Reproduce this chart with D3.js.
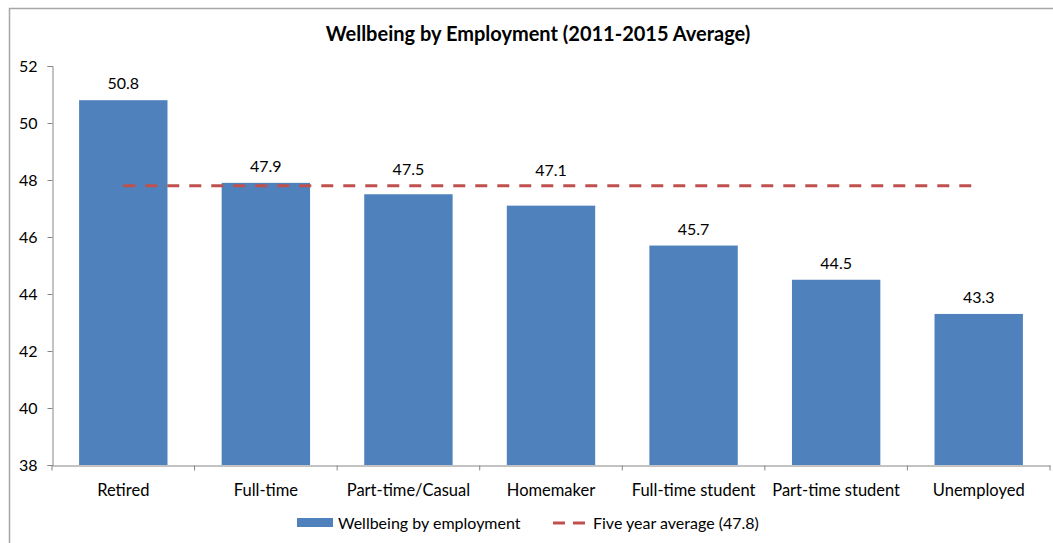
<!DOCTYPE html>
<html><head><meta charset="utf-8">
<script src="https://cdn.jsdelivr.net/npm/d3@7"></script>
<style>
body{margin:0;background:#fff;}
text{font-family:Lato,"Open Sans",sans-serif;fill:#000;}
</style></head>
<body>
<svg id="chart" width="1053" height="543"></svg>
<script>
const categories = ["Retired","Full-time","Part-time/Casual","Homemaker","Full-time student","Part-time student","Unemployed"];
const values = [50.8,47.9,47.5,47.1,45.7,44.5,43.3];
const averageValue = 47.8;
const averageSeries = categories.map(() => averageValue);
const yTicks = [38,40,42,44,46,48,50,52];
const titleText = "Wellbeing by Employment (2011-2015 Average)";
const legendBar = "Wellbeing by employment";
const legendLine = "Five year average (47.8)";

const svg = d3.select("#chart");
const W = 1053, H = 543;

// chart frame
svg.append("rect").attr("x",9.5).attr("y",8.5).attr("width",W).attr("height",H)
  .attr("fill","none").attr("stroke","#a6a6a6").attr("stroke-width",1.5);

const x = d3.scaleBand().domain(categories).range([52,1050]).paddingInner(0.38).paddingOuter(0.19);
const y = d3.scaleLinear().domain([38,52]).range([465,66]);

// bars
svg.append("g").selectAll("rect").data(values).join("rect")
  .attr("x",(d,i)=>x(categories[i])).attr("width",x.bandwidth())
  .attr("y",d=>y(d)).attr("height",d=>y(38)-y(d))
  .attr("fill","#4F81BD");

// y axis
const yAxis = svg.append("g").attr("transform","translate(52.5,0)")
  .call(d3.axisLeft(y).tickValues(yTicks).tickSize(5).tickPadding(10).tickFormat(d3.format("d")));
yAxis.select(".domain").attr("stroke","#868686");
yAxis.selectAll(".tick line").attr("stroke","#868686");
yAxis.selectAll("text").attr("font-size",16).attr("font-family","Lato,sans-serif").attr("fill","#000");

// x axis
const xAxis = svg.append("g").attr("transform","translate(0,465.5)")
  .call(d3.axisBottom(x).tickSize(0).tickPadding(19));
xAxis.select(".domain").attr("stroke","#868686");
xAxis.selectAll("text").attr("font-size",16.5).attr("font-family","Lato,sans-serif").attr("fill","#000");
// category boundary ticks
const bounds = d3.range(categories.length+1).map(i => 52 + i*x.step());
xAxis.selectAll(".bt").data(bounds).join("line").attr("class","bt")
  .attr("x1",d=>d).attr("x2",d=>d).attr("y1",0).attr("y2",5).attr("stroke","#868686");

// average line
const line = d3.line().x((d,i)=>x(categories[i])+x.bandwidth()/2).y(d=>y(d));
svg.append("path").datum(averageSeries).attr("d",line)
  .attr("fill","none").attr("stroke","#C0504D").attr("stroke-width",3)
  .attr("stroke-dasharray","12,10");

// value labels (lifted above the average line when they would collide with it)
const labelY = d => {
  const base = y(d) - 11;
  const gap = y(d) - y(averageValue);
  return (gap > 0 && gap < 30) ? Math.min(base, y(averageValue) - 12 + gap*0.1) : base;
};
svg.append("g").selectAll("text").data(values).join("text")
  .attr("x",(d,i)=>x(categories[i])+x.bandwidth()/2).attr("y",labelY)
  .attr("text-anchor","middle").attr("font-size",16).text(d=>d.toFixed(1));

// title
svg.append("text").attr("x",538).attr("y",41).attr("text-anchor","middle")
  .attr("font-size",20).attr("font-weight","bold").text(titleText);

// legend
svg.append("rect").attr("x",297).attr("y",518).attr("width",36).attr("height",9).attr("fill","#4F81BD");
svg.append("text").attr("x",338).attr("y",529).attr("font-size",16).text(legendBar);
svg.append("line").attr("x1",553).attr("x2",586).attr("y1",523).attr("y2",523)
  .attr("stroke","#C0504D").attr("stroke-width",3).attr("stroke-dasharray","12,8");
svg.append("text").attr("x",593).attr("y",529).attr("font-size",16).text(legendLine);
</script>
</body></html>
